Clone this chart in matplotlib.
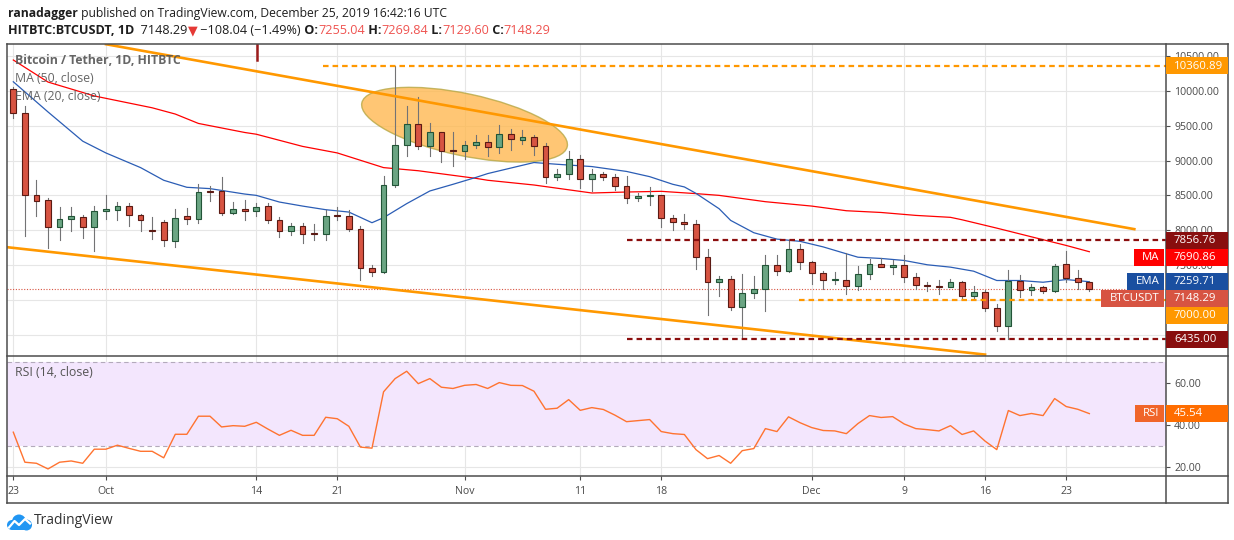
import matplotlib
matplotlib.use("Agg")
import matplotlib.pyplot as plt
import matplotlib.patches as mpatches
import matplotlib.transforms as mtransforms
from matplotlib.lines import Line2D

plt.rcParams['font.family'] = ['Open Sans', 'DejaVu Sans']

W, H = 1234, 540

# ---- data (daily, 23 Sep .. 25 Dec 2019) ----
opens = [10030, 9690, 8500, 8440, 8050, 8165, 8195, 8040, 8280, 8290,
         8355, 8225, 8005, 8120, 7850, 8200, 8165, 8570, 8560, 8250,
         8300, 8275, 8350, 8150, 7995, 8065, 7955, 7950, 8215, 8205,
         8020, 7460, 7405, 8655, 9230, 9520, 9205, 9405, 9150, 9145,
         9230, 9275, 9190, 9390, 9300, 9335, 9205, 8765, 8805, 9030,
         8730, 8815, 8770, 8640, 8465, 8488, 8500, 8180, 8125, 8090,
         7620, 7260, 7300, 6900, 7100, 7160, 7505, 7415, 7735, 7545,
         7390, 7285, 7290, 7200, 7375, 7520, 7470, 7505, 7330, 7215,
         7195, 7185, 7258, 7055, 7115, 6885, 6625, 7277, 7145, 7190,
         7130, 7515, 7315, 7255.04]
highs = [10060, 9785, 8720, 8470, 8330, 8330, 8225, 8345, 8500, 8410,
         8390, 8230, 8185, 8150, 8310, 8320, 8665, 8640, 8770, 8400,
         8440, 8385, 8395, 8185, 8100, 8110, 8085, 8285, 8335, 8295,
         8060, 7505, 8780, 10360, 9785, 9920, 9540, 9410, 9415, 9280,
         9365, 9365, 9510, 9450, 9440, 9370, 9260, 8885, 9135, 9080,
         8875, 8835, 8805, 8785, 8535, 8627, 8505, 8215, 8240, 8140,
         7725, 7335, 7335, 7365, 7335, 7650, 7640, 7855, 7795, 7555,
         7420, 7405, 7670, 7480, 7580, 7595, 7565, 7650, 7390, 7260,
         7290, 7305, 7265, 7200, 7145, 6945, 7435, 7360, 7225, 7195,
         7510, 7695, 7430, 7269.84]
lows = [9620, 7920, 8200, 7740, 7860, 7990, 7890, 7700, 8165, 8145,
        8060, 7985, 7875, 7770, 7760, 8085, 8100, 8425, 8220, 8230,
        8150, 8205, 8110, 7900, 7930, 7820, 7860, 7860, 8150, 7985,
        7290, 7345, 7380, 8620, 9070, 9170, 9070, 8980, 8925, 9025,
        9185, 9070, 9110, 9155, 9240, 9080, 8685, 8720, 8735, 8605,
        8570, 8715, 8575, 8390, 8420, 8367, 8045, 8005, 8015, 7440,
        6780, 7060, 6850, 6460, 7020, 6835, 7355, 7395, 7440, 7225,
        7150, 7225, 7080, 7145, 7295, 7465, 7370, 7260, 7150, 7130,
        7080, 7180, 7005, 7005, 6835, 6550, 6435, 7040, 7070, 7100,
        7110, 7260, 7157, 7129.60]
closes = [9690, 8500, 8425, 8050, 8165, 8200, 8040, 8280, 8300, 8355,
          8225, 8140, 7985, 7860, 8180, 8165, 8555, 8555, 8250, 8300,
          8280, 8340, 8150, 7995, 8065, 7950, 7945, 8210, 8205, 8020,
          7460, 7405, 8655, 9220, 9520, 9205, 9405, 9145, 9145, 9220,
          9275, 9190, 9390, 9305, 9335, 9205, 8765, 8805, 9030, 8730,
          8815, 8770, 8640, 8470, 8488, 8500, 8180, 8122, 8090, 7620,
          7260, 7305, 6900, 7100, 7160, 7505, 7415, 7735, 7545, 7390,
          7285, 7290, 7200, 7375, 7517, 7470, 7505, 7330, 7215, 7195,
          7185, 7258, 7055, 7115, 6885, 6625, 7277, 7145, 7190, 7130,
          7490, 7315, 7255, 7148.29]

rsi = [36.7, 22.4, 21.9, 19.2, 22.4, 23.0, 21.9, 28.6, 28.6, 30.5,
       29.0, 27.6, 27.6, 24.5, 35.7, 35.7, 44.3, 44.3, 39.2, 39.8,
       39.5, 41.4, 38.2, 35.2, 37.6, 35.2, 35.2, 43.8, 43.1, 39.5,
       29.6, 29.1, 55.9, 62.2, 65.7, 59.8, 62.2, 58.1, 57.5, 59.0,
       59.4, 57.5, 60.3, 59.0, 58.9, 56.2, 47.6, 48.1, 52.2, 47.1,
       48.4, 47.5, 44.8, 41.7, 42.2, 42.7, 37.0, 36.0, 35.6, 28.4,
       24.1, 25.6, 21.9, 27.9, 28.9, 38.4, 37.0, 44.0, 41.2, 38.9,
       37.5, 37.3, 36.0, 40.8, 44.6, 43.7, 44.1, 40.6, 38.4, 37.9,
       37.3, 39.8, 35.6, 37.3, 32.4, 28.4, 47.0, 44.6, 45.6, 44.6,
       52.7, 48.9, 47.6, 45.54]

# moving averages read at sample days (day 0 = 23 Sep)
ma_days = [0, 3, 7, 12, 14, 16, 20, 21, 25, 28, 32, 35, 40, 41, 45, 50,
           53, 56, 59, 61, 65, 69, 72, 75, 78, 81, 82, 85, 88, 91, 93]
ma_vals = [10447, 10130, 9930, 9760, 9670, 9535, 9405, 9380, 9205, 9111,
           8900, 8855, 8745, 8718, 8650, 8535, 8549, 8559, 8526, 8501,
           8410, 8347, 8280, 8255, 8213, 8185, 8150, 8030, 7905, 7781, 7690.86]
ema_days = [0, 3, 6, 8, 11, 13, 15, 17, 20, 21, 23, 25, 27, 29, 31, 32,
            34, 36, 38, 40, 41, 45, 47, 50, 53, 55, 57, 58, 59, 61, 62,
            64, 66, 68, 70, 72, 73, 75, 77, 79, 81, 83, 85, 87, 89, 91, 93]
ema_vals = [10134, 9700, 9280, 9111, 8900, 8718, 8617, 8598, 8520, 8501,
            8405, 8347, 8295, 8261, 8108, 8180, 8382, 8564, 8660, 8760,
            8814, 8973, 8948, 8915, 8845, 8770, 8660, 8622, 8530, 8309,
            8141, 7964, 7872, 7840, 7760, 7661, 7612, 7594, 7565, 7503,
            7469, 7411, 7277, 7277, 7252, 7291, 7259.71]

# drawn trendlines (day, price)
upper_line = ([7.9, 97.0], [10677, 8012])
lower_line = ([-0.6, 84.1], [7757, 6210])
# drawn horizontal levels: value, first day, colour
levels = [(10360.89, 26.8, '#FF9800'), (7856.76, 53.0, '#8B0E0E'),
          (7000.00, 67.9, '#FF9800'), (6435.00, 53.0, '#8B0E0E')]
ellipse_center = (39.0, 9517)

tick_days = [0, 8, 21, 28, 39, 49, 56, 69, 77, 84, 91]
tick_labels = ['23', 'Oct', '14', '21', 'Nov', '11', '18', 'Dec', '9', '16', '23']
price_ticks = [6500, 7000, 7500, 8000, 8500, 9000, 9500, 10000, 10500]
hidden_price_labels = [6500, 7000]   # fully covered by the level tags
rsi_ticks = [20, 40, 60]

tag_values = [10360.89, 7856.76, 7690.86, 7259.71, 7148.29, 7000.00, 6435.00]
tag_names = ['', '', 'MA', 'EMA', 'BTCUSDT', '', '']
tag_colors = ['#FF9800', '#880E0E', '#FF0000', '#1A4FA0', '#D75442', '#FF9800', '#880E0E']

UP, DOWN = '#6BA583', '#D75442'
UP_EDGE, DOWN_EDGE = '#225437', '#5B1A13'
GRID = '#E6E6E6'
FRAME = '#4D4D4D'
TXT = '#4A4A4A'


def fx(x):
    return x / W


def fy(y):
    return 1 - y / H


fig = plt.figure(figsize=(W / 100, H / 100), dpi=100)
fig.patch.set_facecolor('white')

L, R, T, MID, BOT, XAX = 7, 1165.7, 44, 355.7, 476.3, 503
ax = fig.add_axes([fx(L), fy(MID), fx(R) - fx(L), (MID - T) / H])
rax = fig.add_axes([fx(L), fy(BOT), fx(R) - fx(L), (BOT - MID) / H], sharex=ax)

ax.set_xlim(-0.545, 99.6)
ax.set_ylim(6196, 10677)
rax.set_ylim(15.7, 73.1)

for a in (ax, rax):
    for s in a.spines.values():
        s.set_visible(False)
    a.set_axisbelow(True)

# grid
for d in tick_days:
    ax.axvline(d, color=GRID, lw=0.8, zorder=0)
    rax.axvline(d, color=GRID, lw=0.8, zorder=0)
for p in price_ticks:
    ax.axhline(p, color=GRID, lw=0.8, zorder=0)
for r in rsi_ticks:
    rax.axhline(r, color=GRID, lw=0.8, zorder=0)

ax.set_yticks(price_ticks)
ax.set_yticklabels(['' if p in hidden_price_labels else '%.2f' % p for p in price_ticks])
ax.yaxis.tick_right()
ax.tick_params(axis='y', direction='out', length=3, pad=3, colors=FRAME,
               labelcolor=TXT, labelsize=7.6, width=0.8)
ax.tick_params(axis='x', bottom=False, labelbottom=False)

rax.set_yticks(rsi_ticks)
rax.set_yticklabels(['%.2f' % r for r in rsi_ticks])
rax.yaxis.tick_right()
rax.tick_params(axis='y', direction='out', length=3, pad=3, colors=FRAME,
                labelcolor=TXT, labelsize=7.6, width=0.8)
rax.set_xticks(tick_days)
rax.set_xticklabels(tick_labels)
rax.tick_params(axis='x', direction='out', length=3, pad=4, colors=FRAME,
                labelcolor=TXT, labelsize=7.6, width=0.8)

# ellipse annotation (pixel sized, anchored on data point)
cx, cy = ax.transData.transform(ellipse_center)
ell = mpatches.Ellipse((cx, cy), 210, 62, angle=-12, facecolor='#FFB74D', alpha=0.78,
                       edgecolor='#B5A642', lw=1.0, transform=mtransforms.IdentityTransform(),
                       zorder=1.5)
ax.add_patch(ell)

# moving averages
ax.plot(ma_days, ma_vals, color='#FF0000', lw=0.9, zorder=2)
ax.plot(ema_days, ema_vals, color='#2B5DB5', lw=0.9, zorder=2)

# current price line
ax.axhline(closes[-1], color=DOWN, lw=0.8, ls=(0, (1, 1.5)), zorder=1)

# candles
for i, (o, h, l, c) in enumerate(zip(opens, highs, lows, closes)):
    up = c >= o
    ax.plot([i, i], [l, h], color='#737375', lw=0.8, zorder=3)
    ax.bar(i, max(abs(c - o), 10), bottom=min(o, c), width=0.5,
           color=UP if up else DOWN, edgecolor=UP_EDGE if up else DOWN_EDGE,
           linewidth=0.8, zorder=3.5)

# trendlines and levels
ax.plot(upper_line[0], upper_line[1], color='#FF9800', lw=1.9, zorder=4, solid_capstyle='butt')
ax.plot(lower_line[0], lower_line[1], color='#FF9800', lw=1.9, zorder=4, solid_capstyle='butt')
for val, start, col in levels:
    ax.plot([start, 99.6], [val, val], color=col, lw=1.6, ls=(0, (2.5, 1.8)), zorder=4)

# small red mark at the top
ax.plot([21.1, 21.1], [10447, 10690], color='#9C1C1C', lw=1.8, zorder=4)

# RSI
rax.axhspan(30, 70, color='#F3E6FD', zorder=0.5, lw=0)
rax.axhline(70, color='#B3AABB', lw=0.8, ls=(0, (4, 3)), zorder=1)
rax.axhline(30, color='#B3AABB', lw=0.8, ls=(0, (4, 3)), zorder=1)
rax.plot(range(len(rsi)), rsi, color='#FF7330', lw=1.0, zorder=3)

# pane titles
fig.text(fx(15), fy(61), 'Bitcoin / Tether, 1D, HITBTC', fontsize=8.8, color='#555555',
         fontweight='bold', va='center', alpha=0.9)
fig.text(fx(15), fy(79), 'MA (50, close)', fontsize=8.8, color='#555555', va='center', alpha=0.9)
fig.text(fx(15), fy(96), 'EMA (20, close)', fontsize=8.8, color='#555555', va='center', alpha=0.9)
fig.text(fx(15), fy(373), 'RSI (14, close)', fontsize=8.8, color='#555555', va='center')

# frame
frame_lines = [((L, T), (1228, T)), ((L, XAX), (1228, XAX)), ((L, T), (L, XAX)),
               ((1228, T), (1228, XAX)), ((R, T), (R, XAX)), ((L, MID), (1228, MID)),
               ((L, BOT), (1228, BOT))]
for (x0, y0), (x1, y1) in frame_lines:
    fig.add_artist(Line2D([fx(x0), fx(x1)], [fy(y0), fy(y1)], color=FRAME, lw=1.1, zorder=6))

renderer = fig.canvas.get_renderer()


def tag_box(y_top, value_text, color, name=''):
    fig.add_artist(mpatches.Rectangle((fx(R), fy(y_top + 17)), fx(1228) - fx(R), 17 / H,
                                      color=color, zorder=7, lw=0))
    fig.text(fx(1174), fy(y_top + 8.7), value_text, color='white', fontsize=8.2,
             va='center', ha='left', zorder=8)
    if name:
        t = fig.text(fx(R - 6), fy(y_top + 8.7), name, color='white', fontsize=8.2,
                     va='center', ha='right', zorder=8)
        w = t.get_window_extent(renderer).width + 13
        fig.add_artist(mpatches.Rectangle((fx(R - 1.5 - w), fy(y_top + 17)), w / W, 17 / H,
                                          color=color, zorder=7, lw=0))


# stack the price tags so they do not overlap (like the platform does)
order = sorted(range(len(tag_values)), key=lambda k: -tag_values[k])
last_bottom = -1e9
for k in order:
    y = H - ax.transData.transform((0, tag_values[k]))[1]
    top = max(y - 8.5, last_bottom)
    last_bottom = top + 17
    tag_box(top, '%.2f' % tag_values[k], tag_colors[k], tag_names[k])

ry = H - rax.transData.transform((0, rsi[-1]))[1]
fig.add_artist(mpatches.Rectangle((fx(R), fy(ry + 8.5)), fx(1228) - fx(R), 17 / H,
                                  color='#FF6D00', zorder=7, lw=0))
fig.text(fx(1174), fy(ry + 0.2), '%.2f' % rsi[-1], color='white', fontsize=8.2,
         va='center', zorder=8)
t = fig.text(fx(R - 6), fy(ry + 0.2), 'RSI', color='white', fontsize=8.2, va='center',
             ha='right', zorder=8)
w = t.get_window_extent(renderer).width + 13
fig.add_artist(mpatches.Rectangle((fx(R - 1.5 - w), fy(ry + 8.5)), w / W, 17 / H,
                                  color='#F0652A', zorder=7, lw=0))


# header
def runs(x, y, parts, size):
    for text, color, weight in parts:
        tt = fig.text(fx(x), fy(y), text, color=color, fontsize=size, fontweight=weight,
                      va='center', ha='left')
        x += tt.get_window_extent(renderer).width


DARK = '#1E1E1E'
RED = '#EF5350'
runs(8, 13, [('ranadagger', DARK, 'bold'),
             (' published on TradingView.com, December 25, 2019 16:42:16 UTC', DARK, 'normal')], 8.7)
runs(8, 31, [('HITBTC:BTCUSDT, 1D', DARK, 'bold'), ('  7148.29', DARK, 'normal'),
             ('\u25bc', '#E53935', 'normal'), (' \u2212108.04 (\u22121.49%)', DARK, 'normal'),
             (' O:', DARK, 'bold'), ('7255.04', RED, 'normal'),
             (' H:', DARK, 'bold'), ('7269.84', RED, 'normal'),
             (' L:', DARK, 'bold'), ('7129.60', RED, 'normal'),
             (' C:', DARK, 'bold'), ('7148.29', RED, 'normal')], 9.1)

# TradingView logo
logo_ax = fig.add_axes([fx(6), fy(531), fx(33) - fx(6), 19 / H])
logo_ax.set_xlim(0, 27)
logo_ax.set_ylim(0, 19)
logo_ax.axis('off')
for (lx, ly, lr) in [(6, 6, 5), (13, 9.5, 7), (20.5, 6, 5.5)]:
    logo_ax.add_patch(mpatches.Circle((lx, ly), lr, color='#2196F3', lw=0))
logo_ax.add_patch(mpatches.Rectangle((6, 1), 14.5, 6, color='#2196F3', lw=0))
logo_ax.plot([3, 8.5, 13, 19, 24], [3.5, 10, 6, 12, 7.5], color='white', lw=1.6)
logo_ax.set_aspect('equal')
fig.text(fx(34), fy(521), 'TradingView', fontsize=10, color='#333333', va='center')

fig.savefig('out.png', dpi=100)
